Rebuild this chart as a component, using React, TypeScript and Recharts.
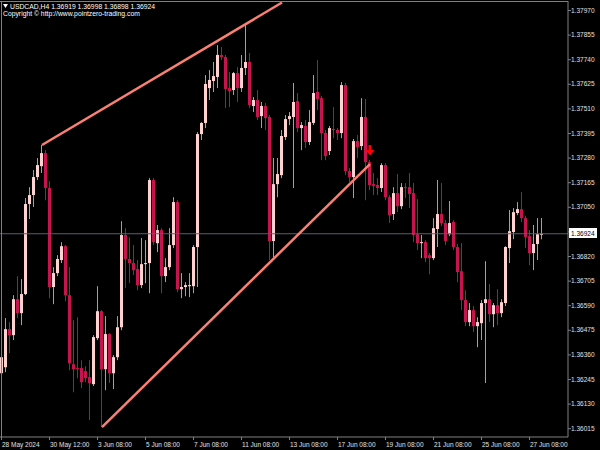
import React from "react";
import { ComposedChart, Bar, XAxis, YAxis, ReferenceLine, ReferenceDot } from "recharts";

// USDCAD H4 candles
const open = [
  1.36272, 1.363, 1.36478, 1.3645, 1.36618, 1.36553, 1.36642, 1.37063, 1.37105, 1.37189,
  1.3724, 1.37301, 1.37138, 1.36675, 1.3674, 1.36801, 1.36866, 1.36637, 1.36314, 1.36296,
  1.36296, 1.36282, 1.36254, 1.36221, 1.36436, 1.36562, 1.36291, 1.36455, 1.36272, 1.36347,
  1.36487, 1.36918, 1.36806, 1.36787, 1.36759, 1.36684, 1.36782, 1.36787, 1.37175, 1.3688,
  1.36941, 1.36726, 1.36768, 1.36871, 1.37072, 1.36665, 1.36675, 1.36679, 1.36679, 1.36862,
  1.3739, 1.37442, 1.37605, 1.37638, 1.37657, 1.3776, 1.3775, 1.37605, 1.37596, 1.37675,
  1.37605, 1.37699, 1.37727, 1.37521, 1.37549, 1.37474, 1.37521, 1.3747, 1.3689, 1.37156,
  1.37198, 1.37376, 1.3746, 1.3747, 1.37544, 1.37418, 1.37428, 1.37353, 1.37442, 1.37587,
  1.37558, 1.37395, 1.37311, 1.37414, 1.37409, 1.37395, 1.37619, 1.37217, 1.37189, 1.37357,
  1.37334, 1.3747, 1.37259, 1.37156, 1.37152, 1.37138, 1.37245, 1.37095, 1.37016, 1.37114,
  1.37053, 1.37142, 1.37142, 1.37114, 1.36922, 1.3688, 1.36885, 1.36824, 1.3681, 1.36946,
  1.37016, 1.36974, 1.36922, 1.36979, 1.36862, 1.36749, 1.36614, 1.36511, 1.36567, 1.36492,
  1.36506, 1.366, 1.36618, 1.36548, 1.3659, 1.36553, 1.366, 1.36857, 1.36932, 1.37021,
  1.37039, 1.36997, 1.36913, 1.36834, 1.36876, 1.36919,
];
const high = [
  1.36497, 1.3653, 1.36511, 1.36637, 1.36726, 1.36712, 1.37091, 1.37142, 1.37222, 1.37278,
  1.37339, 1.37315, 1.3717, 1.36768, 1.36824, 1.36885, 1.36871, 1.36768, 1.3652, 1.36534,
  1.36333, 1.36305, 1.36333, 1.3645, 1.36679, 1.36567, 1.36539, 1.36459, 1.36357, 1.36539,
  1.36983, 1.3695, 1.36908, 1.36871, 1.36801, 1.36904, 1.36894, 1.37184, 1.37184, 1.36965,
  1.3695, 1.3681, 1.3695, 1.37095, 1.37081, 1.3674, 1.36698, 1.3674, 1.36871, 1.37399,
  1.37446, 1.37666, 1.37689, 1.37727, 1.37806, 1.37797, 1.3776, 1.3768, 1.3768, 1.37703,
  1.3776, 1.37909, 1.37769, 1.37563, 1.37596, 1.3754, 1.37535, 1.37479, 1.37278, 1.37278,
  1.37409, 1.37479, 1.37493, 1.37629, 1.37582, 1.37446, 1.37456, 1.37502, 1.37666, 1.37736,
  1.37568, 1.37409, 1.37428, 1.37516, 1.37418, 1.37633, 1.37629, 1.37231, 1.37367, 1.37385,
  1.37558, 1.37554, 1.37268, 1.37208, 1.37184, 1.37254, 1.37254, 1.37105, 1.37142, 1.37203,
  1.37161, 1.37161, 1.37208, 1.37161, 1.37086, 1.36918, 1.36894, 1.36834, 1.36997, 1.37175,
  1.37161, 1.36988, 1.37077, 1.36988, 1.36876, 1.3688, 1.3666, 1.366, 1.36586, 1.36534,
  1.36614, 1.36796, 1.36689, 1.366, 1.36665, 1.36618, 1.36866, 1.37035, 1.37044, 1.37072,
  1.37119, 1.37007, 1.36941, 1.36965, 1.36997, 1.36998,
];
const low = [
  1.36146, 1.36277, 1.36366, 1.36427, 1.3653, 1.36497, 1.36637, 1.36993, 1.37049, 1.37175,
  1.37208, 1.37081, 1.36623, 1.36595, 1.36726, 1.36787, 1.36609, 1.36286, 1.36183, 1.36249,
  1.36202, 1.3623, 1.36053, 1.36212, 1.36427, 1.3602, 1.36193, 1.36226, 1.36198, 1.36333,
  1.36473, 1.3667, 1.36693, 1.36731, 1.3666, 1.3667, 1.36693, 1.36646, 1.36871, 1.36838,
  1.36646, 1.36698, 1.36754, 1.36857, 1.36651, 1.36623, 1.36632, 1.36628, 1.36646, 1.36675,
  1.37362, 1.37418, 1.37549, 1.37587, 1.37605, 1.37736, 1.37512, 1.37516, 1.37573, 1.3754,
  1.37587, 1.37666, 1.37512, 1.37493, 1.37456, 1.37418, 1.37409, 1.36801, 1.36815, 1.37095,
  1.37184, 1.37362, 1.37432, 1.37138, 1.37399, 1.37315, 1.37325, 1.37339, 1.37432, 1.37502,
  1.37268, 1.37268, 1.37292, 1.37371, 1.37362, 1.37371, 1.37198, 1.37166, 1.37091, 1.37278,
  1.37315, 1.37081, 1.37128, 1.37105, 1.37105, 1.37119, 1.37081, 1.36974, 1.36988, 1.37025,
  1.37039, 1.37091, 1.37044, 1.36885, 1.36848, 1.3681, 1.36791, 1.36735, 1.36801, 1.36862,
  1.3696, 1.36871, 1.36913, 1.36848, 1.36698, 1.36567, 1.36492, 1.36492, 1.36464, 1.36394,
  1.36427, 1.36226, 1.36511, 1.36487, 1.36497, 1.36534, 1.36586, 1.36787, 1.36899, 1.37011,
  1.36979, 1.36857, 1.36777, 1.36754, 1.36801, 1.36898,
];
const close = [
  1.36347, 1.36478, 1.3645, 1.36618, 1.36553, 1.36642, 1.37063, 1.37105, 1.37189, 1.37245,
  1.37301, 1.37138, 1.36675, 1.3674, 1.36806, 1.36866, 1.36637, 1.36319, 1.36291, 1.36294,
  1.3623, 1.36249, 1.36226, 1.36441, 1.36562, 1.36291, 1.36455, 1.36272, 1.36347, 1.36487,
  1.36918, 1.36806, 1.36787, 1.36754, 1.36684, 1.36782, 1.36787, 1.37175, 1.36885, 1.36941,
  1.36726, 1.36768, 1.36871, 1.37072, 1.36665, 1.36675, 1.36684, 1.36684, 1.36862, 1.3739,
  1.37442, 1.37624, 1.37643, 1.37661, 1.3776, 1.3775, 1.37601, 1.37591, 1.37675, 1.37605,
  1.37699, 1.37727, 1.37526, 1.37549, 1.3747, 1.37521, 1.37465, 1.3689, 1.37156, 1.37203,
  1.37381, 1.3746, 1.37474, 1.3754, 1.37418, 1.37432, 1.37353, 1.37446, 1.37582, 1.37554,
  1.37395, 1.37287, 1.37418, 1.37409, 1.37395, 1.37619, 1.37217, 1.37189, 1.37357, 1.37329,
  1.3747, 1.37259, 1.37152, 1.37147, 1.37138, 1.37245, 1.37095, 1.37011, 1.37114, 1.37053,
  1.37142, 1.37138, 1.3711, 1.36918, 1.3688, 1.36885, 1.3681, 1.3681, 1.3695, 1.37016,
  1.36974, 1.3689, 1.36974, 1.36862, 1.36745, 1.36614, 1.36511, 1.36567, 1.36492, 1.36511,
  1.366, 1.36618, 1.36548, 1.3659, 1.36553, 1.36604, 1.36862, 1.36936, 1.37025, 1.37039,
  1.36997, 1.36908, 1.36834, 1.36876, 1.36922, 1.36924,
];

const timeLabels = [
  "28 May 2024", "30 May 12:00", "3 Jun 08:00", "5 Jun 08:00", "7 Jun 08:00", "11 Jun 08:00",
  "13 Jun 08:00", "17 Jun 08:00", "19 Jun 08:00", "21 Jun 08:00", "25 Jun 08:00", "27 Jun 08:00",
];
const labelBars = [0, 12, 24, 36, 48, 60, 72, 84, 96, 108, 120, 132];
const priceTicks = [
  1.36015, 1.3613, 1.36245, 1.3636, 1.36475, 1.3659, 1.36705, 1.3682, 1.36935,
  1.3705, 1.37165, 1.3728, 1.37395, 1.3751, 1.37625, 1.3774, 1.37855, 1.3797,
];
const lastPrice = 1.36924;
const upperTrend = [{ x: 10, y: 1.37339 }, { x: 70, y: 1.38005 }];
const lowerTrend = [{ x: 25, y: 1.3602 }, { x: 92, y: 1.3725 }];
const sellSignal = { bar: 92, price: 1.37311 };
const shiftBars = 6; // empty space to the right of the last candle

const BULL = "#ffd2d2";
const BEAR = "#c8144e";
const GRID = "#808080";
const FONT = "'Liberation Sans', Arial, sans-serif";

const data = [
  ...open.map((o, i) => ({ i, o, h: high[i], l: low[i], c: close[i] })),
  ...Array.from({ length: shiftBars }, (_, k) => ({ i: open.length + k })),
];

function Candle(props: any) {
  const { x, y, width, height, payload } = props;
  if (!payload || payload.h == null) return null;
  const { o, h, l, c } = payload;
  const top = Math.min(y, y + height);
  const k = h > l ? Math.abs(height) / (h - l) : 0;
  const py = (v: number) => top + (h - v) * k;
  const cx = Math.floor(x + width / 2);
  const bull = c >= o;
  const bTop = py(Math.max(o, c));
  const bH = Math.max(1, py(Math.min(o, c)) - bTop);
  return (
    <g>
      <rect x={cx} y={top} width={1} height={Math.abs(height)} fill={bull ? "#b09a9a" : "#a01c4c"} />
      <rect x={cx - 1} y={bTop} width={3} height={bH} fill={bull ? BULL : BEAR} />
    </g>
  );
}

function TimeTick(props: any) {
  const { x, y, payload } = props;
  const idx = labelBars.indexOf(payload.value);
  return (
    <g>
      <line x1={x - 0.5} x2={x - 0.5} y1={y} y2={y + 3} stroke={GRID} />
      <text x={x} y={y + 10} fill="#e0e0e0" fontSize={6.5} fontFamily={FONT} textAnchor="start">
        {timeLabels[idx]}
      </text>
    </g>
  );
}

function PriceTick(props: any) {
  const { x, y, payload } = props;
  return (
    <g>
      <line x1={x} x2={x + 3} y1={y + 0.5} y2={y + 0.5} stroke={GRID} />
      <text x={x + 3} y={y + 2.5} fill="#e0e0e0" fontSize={6.5} fontFamily={FONT} textAnchor="start">
        {payload.value.toFixed(5)}
      </text>
    </g>
  );
}

function SellArrow(props: any) {
  const { cx, cy } = props;
  return (
    <path
      d={`M${cx - 1.5},${cy - 6} h3 v5 h3 l-4.5,5.5 l-4.5,-5.5 h3 z`}
      fill="#ff0000"
    />
  );
}

export default function App() {
  return (
    <div style={{ position: "fixed", left: 0, top: 0, width: 600, height: 450, background: "#000", overflow: "hidden" }}>
      <ComposedChart
        width={600}
        height={450}
        data={data}
        margin={{ top: 1, right: 0, bottom: 0, left: 0 }}
      >
        <XAxis
          dataKey="i"
          type="category"
          height={13}
          ticks={labelBars}
          interval={0}
          tick={(p: any) => <TimeTick {...p} />}
          tickLine={false}
          tickSize={0}
          tickMargin={0}
          axisLine={{ stroke: GRID }}
        />
        <YAxis
          orientation="right"
          type="number"
          width={32}
          domain={[1.359739, 1.380121]}
          allowDataOverflow
          ticks={priceTicks}
          interval={0}
          tick={(p: any) => <PriceTick {...p} />}
          tickLine={false}
          tickSize={0}
          tickMargin={0}
          axisLine={{ stroke: GRID }}
        />
        <ReferenceLine y={lastPrice} stroke="#56606c" strokeWidth={1} />
        <Bar
          dataKey={(d: any) => (d.h == null ? null : [d.l, d.h])}
          shape={(p: any) => <Candle {...p} />}
          isAnimationActive={false}
        />
        <ReferenceLine segment={upperTrend} stroke="#fa8072" strokeWidth={2.5} />
        <ReferenceLine segment={lowerTrend} stroke="#fa8072" strokeWidth={2.5} />
        <ReferenceDot
          x={sellSignal.bar}
          y={sellSignal.price}
          shape={(p: any) => <SellArrow {...p} />}
        />
      </ComposedChart>
      <svg
        width={600}
        height={450}
        style={{ position: "absolute", left: 0, top: 0, pointerEvents: "none" }}
      >
        <line x1={0} x2={568} y1={1.5} y2={1.5} stroke={GRID} />
        <line x1={1.5} x2={1.5} y1={1} y2={437} stroke={GRID} />
        <path d="M3,4 L8,4 L5.5,8 Z" fill="#fff" />
        <text x={10} y={8.5} fill="#fff" fontSize={6.8} fontFamily={FONT}>
          USDCAD,H4  1.36919 1.36998 1.36898 1.36924
        </text>
        <text x={3} y={15.5} fill="#fff" fontSize={6.8} fontFamily={FONT}>
          Copyright © http://www.pointzero-trading.com
        </text>
        <rect x={569} y={228} width={28} height={10} fill="#fff" />
        <text x={571} y={235.5} fill="#000" fontSize={6.5} fontFamily={FONT}>
          {lastPrice.toFixed(5)}
        </text>
      </svg>
    </div>
  );
}
